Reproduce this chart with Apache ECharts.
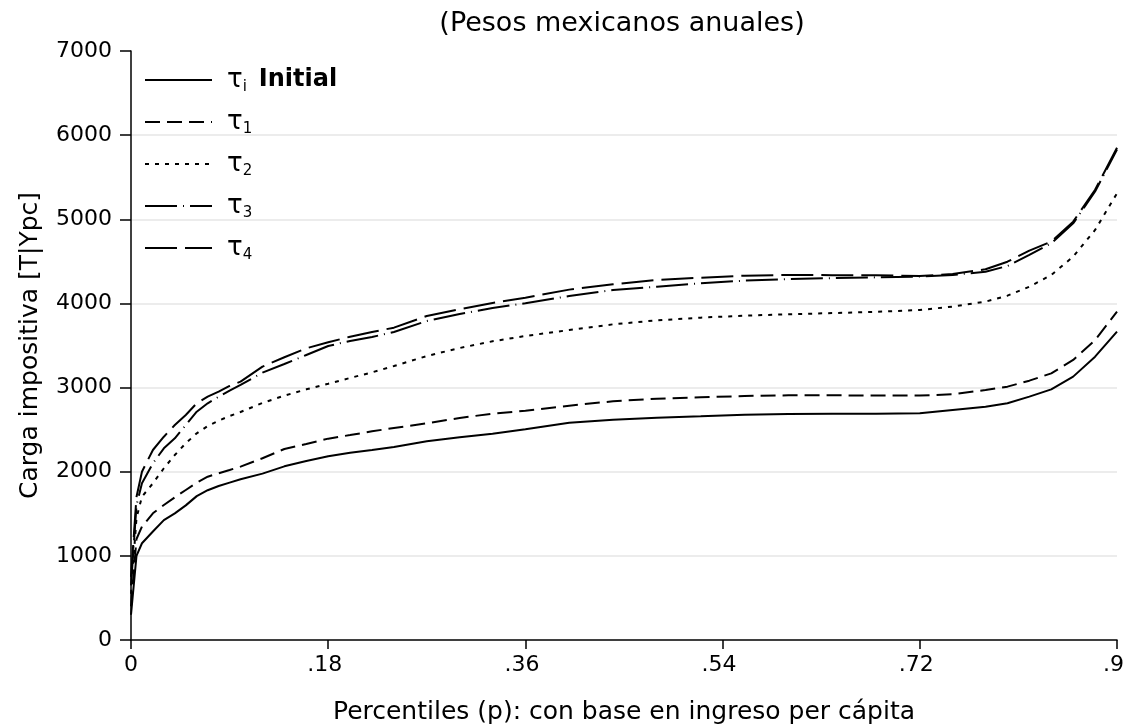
<!DOCTYPE html>
<html>
<head>
<meta charset="utf-8">
<script src="https://cdn.jsdelivr.net/npm/echarts@6/dist/echarts.min.js"></script>
<style>
html,body{margin:0;padding:0;background:#fff;}
#chart{width:1130px;height:726px;}
</style>
</head>
<body>
<div id="chart"></div>
<script>
var percentiles = [0, 0.005, 0.01, 0.02, 0.03, 0.04, 0.05, 0.06, 0.07, 0.08, 0.09, 0.1, 0.12, 0.14, 0.16, 0.18, 0.2, 0.22, 0.24, 0.27, 0.3, 0.33, 0.36, 0.4, 0.44, 0.48, 0.52, 0.56, 0.6, 0.64, 0.68, 0.72, 0.75, 0.78, 0.8, 0.82, 0.84, 0.86, 0.88, 0.9];
var tauInitial = [300, 1000, 1150, 1290, 1425, 1505, 1600, 1710, 1780, 1830, 1870, 1910, 1977, 2064, 2127, 2183, 2226, 2258, 2294, 2361, 2409, 2452, 2505, 2583, 2619, 2642, 2658, 2678, 2686, 2688, 2690, 2694, 2734, 2773, 2813, 2892, 2979, 3130, 3367, 3665];
var tau1 = [400, 1200, 1347, 1506, 1604, 1696, 1783, 1870, 1941, 1981, 2020, 2060, 2160, 2270, 2330, 2393, 2436, 2480, 2520, 2575, 2639, 2690, 2725, 2785, 2837, 2868, 2884, 2900, 2908, 2908, 2906, 2906, 2920, 2971, 3011, 3082, 3169, 3328, 3565, 3902];
var tau2 = [550, 1450, 1703, 1862, 2041, 2199, 2338, 2456, 2543, 2607, 2662, 2710, 2817, 2904, 2979, 3046, 3114, 3181, 3256, 3375, 3470, 3550, 3613, 3684, 3752, 3799, 3831, 3855, 3871, 3885, 3900, 3922, 3962, 4021, 4092, 4199, 4338, 4556, 4873, 5309];
var tau3 = [650, 1600, 1862, 2100, 2278, 2397, 2555, 2713, 2813, 2892, 2963, 3031, 3177, 3280, 3387, 3494, 3554, 3601, 3661, 3791, 3874, 3946, 4002, 4088, 4160, 4199, 4239, 4271, 4290, 4300, 4310, 4320, 4338, 4377, 4445, 4576, 4714, 4952, 5330, 5830];
var tau4 = [750, 1700, 2000, 2258, 2416, 2555, 2674, 2813, 2892, 2951, 3019, 3070, 3249, 3360, 3467, 3538, 3605, 3661, 3712, 3851, 3930, 4005, 4068, 4164, 4227, 4279, 4306, 4330, 4338, 4336, 4334, 4326, 4350, 4406, 4496, 4627, 4734, 4972, 5350, 5850];
var seriesNames = ['τi Initial', 'τ1', 'τ2', 'τ3', 'τ4'];
var xTickLabels = {'0': '0', '0.18': '.18', '0.36': '.36', '0.54': '.54', '0.72': '.72', '0.9': '.9'};

var FONT = "'DejaVu Sans', sans-serif";

function pairs(xs, ys) {
  return xs.map(function (x, i) { return [x, ys[i]]; });
}

var dashTypes = ['solid', [15, 7], [4, 6], [32, 6, 1, 6], [32, 8]];
var dataSets = [tauInitial, tau1, tau2, tau3, tau4];

var chart = echarts.init(document.getElementById('chart'), null, {renderer: 'canvas'});
var option = {
  backgroundColor: '#ffffff',
  animation: false,
  title: {
    text: '(Pesos mexicanos anuales)',
    left: 617,
    textAlign: 'center',
    top: 5,
    textStyle: {fontFamily: FONT, fontSize: 27, fontWeight: 'normal', color: '#000'}
  },
  grid: {left: 131, right: 13, top: 51, bottom: 86, containLabel: false, outerBoundsMode: 'none'},
  legend: {
    orient: 'vertical',
    left: 139,
    top: 59,
    itemWidth: 67,
    itemHeight: 14,
    itemGap: 11,
    data: seriesNames,
    itemStyle: {opacity: 0},
    formatter: function (name) {
      if (name === 'τi Initial') return '{g|τ}{s|i}{b|Initial}';
      return '{g|τ}{s|' + name.slice(1) + '}';
    },
    textStyle: {
      fontFamily: FONT,
      color: '#000',
      rich: {
        g: {fontFamily: FONT, fontSize: 26, color: '#000', lineHeight: 30, padding: [0, 0, 0, 10]},
        s: {fontFamily: FONT, fontSize: 15, color: '#000', lineHeight: 30, verticalAlign: 'bottom', padding: [16, 0, 0, 0]},
        b: {fontFamily: FONT, fontSize: 24, fontWeight: 'bold', color: '#000', lineHeight: 30, padding: [0, 0, 0, 12]}
      }
    }
  },
  xAxis: {
    type: 'value',
    min: 0,
    max: 0.9,
    interval: 0.18,
    name: 'Percentiles (p): con base en ingreso per cápita',
    nameLocation: 'middle',
    nameGap: 60,
    nameTextStyle: {fontFamily: FONT, fontSize: 25, color: '#000'},
    axisLine: {show: true, onZero: false, lineStyle: {color: '#000', width: 1.5}},
    axisTick: {show: true, length: 9, lineStyle: {color: '#000', width: 1.5}},
    axisLabel: {
      fontFamily: FONT, fontSize: 22, color: '#000', margin: 14,
      formatter: function (v) {
        var k = String(Math.round(v * 100) / 100);
        var t = xTickLabels[k];
        if (t === undefined) return '';
        if (t.charAt(0) === '.') return '{d|' + t + '}';
        return t;
      },
      rich: {
        d: {fontFamily: FONT, fontSize: 22, color: '#000', padding: [0, 7, 0, 0]}
      }
    },
    splitLine: {show: false}
  },
  yAxis: {
    type: 'value',
    min: 0,
    max: 7000,
    interval: 1000,
    name: 'Carga impositiva [T|Ypc]',
    nameLocation: 'middle',
    nameGap: 88,
    nameTextStyle: {fontFamily: FONT, fontSize: 25, color: '#000'},
    axisLine: {show: true, lineStyle: {color: '#000', width: 1.5}},
    axisTick: {show: true, length: 11, lineStyle: {color: '#000', width: 1.5}},
    axisLabel: {
      fontFamily: FONT, fontSize: 22, color: '#000', margin: 19,
      formatter: function (v) { return String(v); }
    },
    splitLine: {show: true, showMinLine: false, showMaxLine: false, lineStyle: {color: '#ececec', width: 2}}
  },
  series: seriesNames.map(function (n, i) {
    return {
      name: n,
      type: 'line',
      data: pairs(percentiles, dataSets[i]),
      showSymbol: false,
      symbol: 'none',
      smooth: false,
      lineStyle: {color: '#000', width: 2, type: dashTypes[i]},
      itemStyle: {color: '#000'}
    };
  })
};
chart.setOption(option);
</script>
</body>
</html>
